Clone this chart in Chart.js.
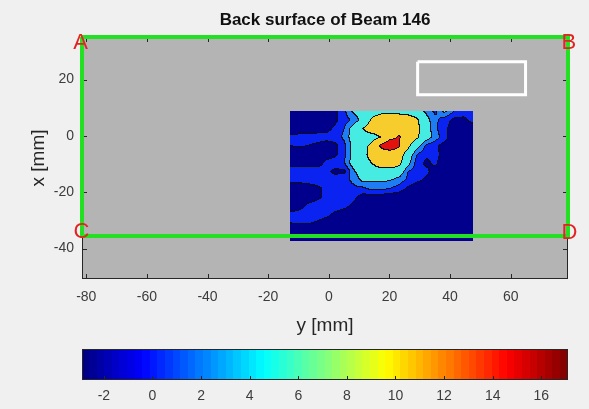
<!DOCTYPE html>
<html>
<head>
<meta charset="utf-8">
<script src="https://cdn.jsdelivr.net/npm/chart.js@4.4.1/dist/chart.umd.min.js"></script>
<style>
  html, body { margin: 0; padding: 0; background: #f0f0f0; }
  #wrap { position: relative; width: 589px; height: 409px; }
  #main { position: absolute; left: 0; top: 0; }
  #bar { position: absolute; left: 0; top: 340px; }
</style>
</head>
<body>
<div id="wrap">
  <canvas id="main" width="589" height="340"></canvas>
  <canvas id="bar" width="589" height="69"></canvas>
</div>
<script>
// plot horizontal axis is "y [mm]", vertical axis is "x [mm]"
const yTicks = [-80, -60, -40, -20, 0, 20, 40, 60];
const xTicks = [-40, -20, 0, 20];
const cbTicks = [-2, 0, 2, 4, 6, 8, 10, 12, 14, 16];

const yRange = [-81.4, 78.9];
const xRange = [-50.8, 35.1];
const cRange = [-2.9, 17.1];

// beam outline A-B-D-C and the white box
const beamY = [-81.4, 78.9, 78.9, -81.4, -81.4];
const beamX = [35.1, 35.1, -35.5, -35.5, 35.1];
const boxY = [29.3, 64.9, 64.9, 29.3, 29.3];
const boxX = [26.3, 26.3, 14.6, 14.6, 26.3];

const cornerNames = ['A', 'B', 'C', 'D'];
const cornerY = [-81.9, 79.2, -81.6, 79.4];
const cornerX = [33.0, 33.0, -34.1, -34.6];

// measured grid (y across, x down)
const gridY = [-12.9, -9.9, -6.9, -3.9, -0.9, 2.1, 5.1, 8.1, 11.1, 14.1, 17.1,
               20.1, 23.1, 26.1, 29.1, 32.1, 35.1, 38.1, 41.1, 44.1, 47.1];
const gridX = [8.8, 5.75, 2.7, -0.35, -3.4, -6.45, -9.5, -12.55, -15.6, -18.65,
               -21.7, -24.75, -27.8, -30.85, -33.9, -36.95];
const field = [
  [-1.5,-1.5,-1.5,-1.2,-1,-0.5,1.5,4.5,5.5,6.5,7,7,7,6.5,5.5,3.5,1.5,4.5,2,1,0.5],
  [-1.5,-1.5,-1.5,-1.3,-1,-0.5,1.2,2.5,5,8.5,10,10.5,10,10,8.5,5,2.5,1,-0.5,-0.5,0.5],
  [-1.5,-1.5,-1.5,-1.2,-0.8,0.5,2,5.5,8,10,10.5,11,10.5,10,9,5.5,2.5,0.5,-1,-1.2,-1],
  [0.5,0.8,1,1,0.8,1,2.5,5.5,6.5,6.5,8,11,12.3,10,8.5,5.5,3,1,-1.5,-1.5,-1.2],
  [0,0.3,0,-0.5,-1,-0.5,1.5,5,6.5,9,12.5,14.5,12.3,9,5,1.5,0.5,-1,-1.5,-1.5,-1.5],
  [-1.5,-1.5,-1.5,-1,-1,-0.5,1.5,5,6.5,9.5,10.5,10,10,6,2,0.5,0.8,-1,-1.5,-1.5,-1.5],
  [-1,-1,-1,-1,0.5,1,2,5.5,6.5,8,10,10.5,9,5,1,-0.5,0.5,-1.5,-1.5,-1.5,-1.5],
  [1,1,1,1,0.5,-0.5,-0.5,3.5,6,6.5,6.5,6.5,6,2,1,0.5,-1,-1.5,-1.5,-1.5,-1.5],
  [0.5,0.5,0.8,1,1,1,1.2,2.5,4.5,4.5,4.5,4.2,3,1.5,0.5,-0.5,-1.5,-1.5,-1.5,-1.5,-1.5],
  [-1,-1,-1,-0.5,0.5,1,1.5,1.5,1.5,2.5,2.5,2,1,-0.5,-1.5,-1.5,-1.5,-1.5,-1.5,-1.5,-1.5],
  [-1.5,-1.5,-1.2,-0.5,0.5,1,1,0.5,-1,-1,-1.2,-1.5,-1.5,-1.5,-1.5,-1.5,-1.5,-1.5,-1.5,-1.5,-1.5],
  [-1.5,-1,0.5,1,1,1,0.5,-0.5,-1,-1,-1.5,-1.5,-1.5,-1.5,-1.5,-1.5,-1.5,-1.5,-1.5,-1.5,-1.5],
  [0.5,1,1,1,0.5,-0.5,-1,-1.2,-1.5,-1.5,-1.5,-1.5,-1.5,-1.5,-1.5,-1.5,-1.5,-1.5,-1.5,-1.5,-1.5],
  [0,0.2,0.2,-0.3,-1,-1.2,-1.5,-1.5,-1.5,-1.5,-1.5,-1.5,-1.5,-1.5,-1.5,-1.5,-1.5,-1.5,-1.5,-1.5,-1.5],
  [-1.5,-1.5,-1.5,-1.5,-1.5,-1.5,-1.5,-1.5,-1.5,-1.5,-1.5,-1.5,-1.5,-1.5,-1.5,-1.5,-1.5,-1.5,-1.5,-1.5,-1.5],
  [-1.5,-1.5,-1.5,-1.5,-1.5,-1.5,-1.5,-1.5,-1.5,-1.5,-1.5,-1.5,-1.5,-1.5,-1.5,-1.5,-1.5,-1.5,-1.5,-1.5,-1.5]
];
const levels = [0, 2, 4, 8, 12];
const levelColors = ['#00008c', '#0a23f0', '#1e7cf5', '#46ebe1', '#f7cd2d', '#e3120f'];

const axisColor = '#262626';
const labelColor = '#3c3c3c';

function locate(arr, v) {
  for (let k = 0; k < arr.length - 1; k++) {
    const a = arr[k], b = arr[k + 1];
    if ((v - a) * (v - b) <= 0) return k + (v - a) / (b - a);
  }
  return v < Math.min(arr[0], arr[arr.length - 1]) === (arr[0] < arr[1]) ? 0 : arr.length - 1;
}

function sample(fi, fj) {
  const i = Math.min(Math.floor(fi), gridY.length - 2), j = Math.min(Math.floor(fj), gridX.length - 2);
  const ti = fi - i, tj = fj - j;
  const a = field[j][i], b = field[j][i + 1], c = field[j + 1][i], d = field[j + 1][i + 1];
  return (a * (1 - ti) + b * ti) * (1 - tj) + (c * (1 - ti) + d * ti) * tj;
}

function levelOf(v) {
  let k = 0;
  while (k < levels.length && v >= levels[k]) k++;
  return k;
}

function hexRGB(h) {
  return [parseInt(h.slice(1, 3), 16), parseInt(h.slice(3, 5), 16), parseInt(h.slice(5, 7), 16)];
}

function jet(t) {
  const c = v => Math.round(255 * Math.min(1, Math.max(0, v)));
  return `rgb(${c(1.5 - Math.abs(4 * t - 3))},${c(1.5 - Math.abs(4 * t - 2))},${c(1.5 - Math.abs(4 * t - 1))})`;
}

// gray axes background + filled contour
const fieldPlugin = {
  id: 'field',
  beforeDatasetsDraw(chart) {
    const {ctx, chartArea: a, scales: {x, y}} = chart;
    ctx.save();
    ctx.fillStyle = '#b4b4b4';
    ctx.fillRect(a.left, a.top, a.width, a.height);

    const x0 = Math.round(x.getPixelForValue(gridY[0]));
    const x1 = Math.round(x.getPixelForValue(gridY[gridY.length - 1]));
    const y0 = Math.round(y.getPixelForValue(gridX[0]));
    const y1 = Math.round(y.getPixelForValue(gridX[gridX.length - 1]));
    const w = x1 - x0 + 1, h = y1 - y0 + 1;
    const lev = new Int8Array(w * h);
    for (let j = 0; j < h; j++) {
      const fj = locate(gridX, y.getValueForPixel(y0 + j));
      for (let i = 0; i < w; i++) {
        const fi = locate(gridY, x.getValueForPixel(x0 + i));
        lev[j * w + i] = levelOf(sample(fi, fj));
      }
    }
    const rgb = levelColors.map(hexRGB);
    const off = document.createElement('canvas');
    off.width = w; off.height = h;
    const octx = off.getContext('2d');
    const img = octx.createImageData(w, h);
    for (let j = 0; j < h; j++) {
      for (let i = 0; i < w; i++) {
        const k = j * w + i;
        let col = rgb[lev[k]];
        if ((i < w - 1 && lev[k + 1] !== lev[k]) || (j < h - 1 && lev[k + w] !== lev[k])) col = [15, 15, 25];
        img.data[k * 4] = col[0];
        img.data[k * 4 + 1] = col[1];
        img.data[k * 4 + 2] = col[2];
        img.data[k * 4 + 3] = 255;
      }
    }
    octx.putImageData(img, 0, 0);
    ctx.drawImage(off, x0, y0);
    ctx.restore();
  }
};

// axes box with inward ticks on all sides
const framePlugin = {
  id: 'frame',
  beforeDatasetsDraw(chart) {
    const {ctx, chartArea: a, scales: {x, y}} = chart;
    ctx.save();
    ctx.strokeStyle = axisColor;
    ctx.lineWidth = 1;
    ctx.strokeRect(a.left + 0.5, a.top + 0.5, a.width - 1, a.height - 1);
    ctx.beginPath();
    yTicks.forEach(v => {
      const p = Math.round(x.getPixelForValue(v)) + 0.5;
      ctx.moveTo(p, a.bottom); ctx.lineTo(p, a.bottom - 5);
      ctx.moveTo(p, a.top); ctx.lineTo(p, a.top + 5);
    });
    xTicks.forEach(v => {
      const p = Math.round(y.getPixelForValue(v)) + 0.5;
      ctx.moveTo(a.left, p); ctx.lineTo(a.left + 5, p);
      ctx.moveTo(a.right, p); ctx.lineTo(a.right - 5, p);
    });
    ctx.stroke();
    ctx.restore();
  }
};

// corner letters and the title
const textPlugin = {
  id: 'texts',
  afterDraw(chart) {
    const {ctx, chartArea: a, scales: {x, y}} = chart;
    ctx.save();
    ctx.font = '22px "Liberation Sans"';
    ctx.fillStyle = '#e52222';
    ctx.textAlign = 'center';
    ctx.textBaseline = 'middle';
    cornerNames.forEach((n, i) => {
      ctx.fillText(n, x.getPixelForValue(cornerY[i]), y.getPixelForValue(cornerX[i]));
    });
    ctx.font = 'bold 17px "Liberation Sans"';
    ctx.fillStyle = '#111111';
    ctx.textBaseline = 'alphabetic';
    ctx.fillText('Back surface of Beam 146', (a.left + a.right) / 2, 25);
    ctx.restore();
  }
};

new Chart(document.querySelector('#main'), {
  type: 'scatter',
  data: {
    datasets: [
      {
        data: beamY.map((v, i) => ({x: v, y: beamX[i]})),
        showLine: true,
        borderColor: '#22e022',
        borderWidth: 4,
        pointRadius: 0,
        tension: 0,
        clip: false
      },
      {
        data: boxY.map((v, i) => ({x: v, y: boxX[i]})),
        showLine: true,
        borderColor: '#ffffff',
        borderWidth: 3,
        pointRadius: 0,
        tension: 0
      }
    ]
  },
  options: {
    responsive: false,
    animation: false,
    devicePixelRatio: 1,
    layout: { padding: { top: 37, right: 21, bottom: 0, left: 0 } },
    plugins: { legend: { display: false }, tooltip: { enabled: false } },
    scales: {
      x: {
        type: 'linear',
        min: yRange[0],
        max: yRange[1],
        afterBuildTicks: s => { s.ticks = yTicks.map(v => ({value: v})); },
        afterFit: s => { s.height = 61; },
        grid: { display: false, drawTicks: false },
        border: { display: false },
        ticks: { color: labelColor, font: { family: 'Liberation Sans', size: 14 }, padding: 10, maxRotation: 0 },
        title: { display: true, text: 'y [mm]', color: axisColor, font: { family: 'Liberation Sans', size: 19 }, padding: { top: 0, bottom: 3 } }
      },
      y: {
        type: 'linear',
        min: xRange[0],
        max: xRange[1],
        afterBuildTicks: s => { s.ticks = xTicks.map(v => ({value: v})); },
        afterFit: s => { s.width = 82; },
        grid: { display: false, drawTicks: false },
        border: { display: false },
        ticks: { color: labelColor, font: { family: 'Liberation Sans', size: 14 }, padding: 8 },
        title: { display: true, text: 'x [mm]', color: axisColor, font: { family: 'Liberation Sans', size: 19 }, padding: { top: 27, bottom: 0 } }
      }
    }
  },
  plugins: [fieldPlugin, framePlugin, textPlugin]
});

// colorbar
const colorbarPlugin = {
  id: 'colorbar',
  beforeDatasetsDraw(chart) {
    const {ctx, chartArea: a, scales: {x}} = chart;
    const n = 64, step = (cRange[1] - cRange[0]) / n;
    ctx.save();
    for (let k = 0; k < n; k++) {
      const p0 = x.getPixelForValue(cRange[0] + k * step);
      const p1 = x.getPixelForValue(cRange[0] + (k + 1) * step);
      ctx.fillStyle = jet((k + 0.5) / n);
      ctx.fillRect(Math.floor(p0), a.top, Math.ceil(p1) - Math.floor(p0), a.height);
    }
    ctx.strokeStyle = axisColor;
    ctx.lineWidth = 1;
    ctx.strokeRect(a.left + 0.5, a.top + 0.5, a.width - 1, a.height - 1);
    ctx.beginPath();
    cbTicks.forEach(v => {
      const p = Math.round(x.getPixelForValue(v)) + 0.5;
      ctx.moveTo(p, a.bottom); ctx.lineTo(p, a.bottom - 4);
    });
    ctx.stroke();
    ctx.restore();
  }
};

new Chart(document.querySelector('#bar'), {
  type: 'scatter',
  data: { datasets: [] },
  options: {
    responsive: false,
    animation: false,
    devicePixelRatio: 1,
    layout: { padding: { top: 9, right: 21, bottom: 0, left: 82 } },
    plugins: { legend: { display: false }, tooltip: { enabled: false } },
    scales: {
      x: {
        type: 'linear',
        min: cRange[0],
        max: cRange[1],
        afterBuildTicks: s => { s.ticks = cbTicks.map(v => ({value: v})); },
        afterFit: s => { s.height = 29; },
        grid: { display: false, drawTicks: false },
        border: { display: false },
        ticks: { color: labelColor, font: { family: 'Liberation Sans', size: 14 }, padding: 8, maxRotation: 0 }
      },
      y: { display: false, min: 0, max: 1 }
    }
  },
  plugins: [colorbarPlugin]
});
</script>
</body>
</html>
